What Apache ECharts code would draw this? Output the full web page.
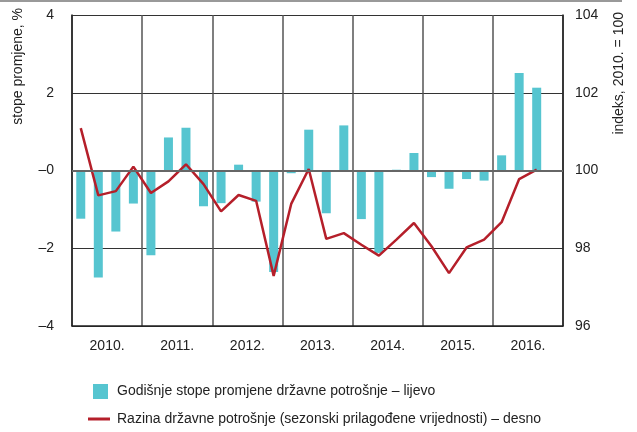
<!DOCTYPE html>
<html>
<head>
<meta charset="utf-8">
<script src="https://cdn.jsdelivr.net/npm/echarts@6/dist/echarts.min.js"></script>
<style>
  html, body { margin: 0; padding: 0; background: #fff; }
  #chart { width: 637px; height: 432px; }
</style>
</head>
<body>
<div id="chart"></div>
<script>
// quarters 2010 Q1 .. 2016 Q4
var years = ['2010.', '2011.', '2012.', '2013.', '2014.', '2015.', '2016.'];
var quarters = [];
years.forEach(function (y) { ['I', 'II', 'III', 'IV'].forEach(function (q) { quarters.push(q + ' ' + y); }); });

var growthRate = [
    -1.24, -2.75, -1.57, -0.85,
    -2.18, 0.85, 1.10, -0.92,
    -0.84, 0.15, -0.80, -2.61,
    -0.07, 1.05, -1.10, 1.16,
    -1.25, -2.12, 0.02, 0.45,
    -0.17, -0.47, -0.22, -0.26,
    0.39, 2.51, 2.13, null
];
var levelIndex = [
    101.09, 99.36, 99.47, 100.10,
    99.42, 99.72, 100.16, 99.65,
    98.95, 99.37, 99.22, 97.29,
    99.14, 100.04, 98.24, 98.39,
    98.09, 97.81, 98.22, 98.65,
    98.05, 97.36, 98.02, 98.22,
    98.67, 99.78, 100.02, null
];
var leftTicks = [-4, -2, 0, 2, 4];
var rightTicks = [96, 98, 100, 102, 104];

var barName = 'Godišnje stope promjene državne potrošnje – lijevo';
var lineName = 'Razina državne potrošnje (sezonski prilagođene vrijednosti) – desno';

var font = '"Liberation Sans Narrow", "Liberation Sans", Arial, sans-serif';
var chart = echarts.init(document.getElementById('chart'));

chart.setOption({
    animation: false,
    textStyle: { fontFamily: font },
    grid: { left: 72, right: 74, top: 15, bottom: 106 },
    legend: [
        {
            data: [barName],
            left: 93, top: 384, padding: 0,
            icon: 'rect', itemWidth: 15, itemHeight: 15,
            textStyle: { fontFamily: font, fontSize: 14, color: '#222', padding: [0, 0, 0, 4] }
        },
        {
            data: [lineName],
            left: 88, top: 412, padding: 0,
            icon: 'rect', itemWidth: 22, itemHeight: 3,
            textStyle: { fontFamily: font, fontSize: 14, color: '#222', padding: [0, 0, 0, 2] }
        }
    ],
    graphic: [
        { type: 'line', shape: { x1: 0, y1: 1, x2: 622, y2: 1 }, style: { stroke: '#777', lineWidth: 1.5 } },
        {
            type: 'text', x: 18, y: 8, rotation: Math.PI / 2,
            style: { text: 'stope promjene, %', fontFamily: font, fontSize: 14, fill: '#222', textAlign: 'right', textVerticalAlign: 'middle' }
        },
        {
            type: 'text', x: 619, y: 12, rotation: Math.PI / 2,
            style: { text: 'indeks, 2010. = 100', fontFamily: font, fontSize: 14, fill: '#222', textAlign: 'right', textVerticalAlign: 'middle' }
        }
    ],
    xAxis: [
        {
            type: 'category', data: quarters, boundaryGap: true,
            axisLine: { show: false }, axisTick: { show: false },
            axisLabel: { show: false }, splitLine: { show: false }
        },
        {
            type: 'category', data: years, position: 'bottom', boundaryGap: true,
            axisLine: { show: true, lineStyle: { color: '#222', width: 1.5 } },
            axisTick: { show: false },
            axisLabel: { fontSize: 14, color: '#222', margin: 13 },
            splitLine: { show: true, lineStyle: { color: '#555', width: 1.5 } }
        }
    ],
    yAxis: [
        {
            type: 'value', min: leftTicks[0], max: leftTicks[leftTicks.length - 1], interval: 2,
            axisLine: { show: true, lineStyle: { color: '#222', width: 1.5 } },
            axisTick: { show: false },
            axisLabel: {
                fontSize: 14, color: '#222', margin: 18,
                formatter: function (v) { return v <= 0 ? '–' + Math.abs(v) : String(v); }
            },
            splitLine: { show: true, lineStyle: { color: '#333', width: 1.2 } }
        },
        {
            type: 'value', min: rightTicks[0], max: rightTicks[rightTicks.length - 1], interval: 2,
            axisLine: { show: true, lineStyle: { color: '#222', width: 1.5 } },
            axisTick: { show: false },
            axisLabel: { fontSize: 14, color: '#222', margin: 12 },
            splitLine: { show: false }
        }
    ],
    series: [
        {
            name: barName, type: 'bar', xAxisIndex: 0, yAxisIndex: 0,
            data: growthRate, barWidth: 9,
            itemStyle: { color: '#56C5D0' },
            markLine: {
                silent: true, symbol: 'none', label: { show: false },
                lineStyle: { color: '#666', width: 2, type: 'solid' },
                data: [{ yAxis: 0 }]
            }
        },
        {
            name: lineName, type: 'line', xAxisIndex: 0, yAxisIndex: 1,
            data: levelIndex, showSymbol: false, symbol: 'none',
            lineStyle: { color: '#B51F2A', width: 2.5 },
            itemStyle: { color: '#B51F2A' }
        }
    ]
});
</script>
</body>
</html>
